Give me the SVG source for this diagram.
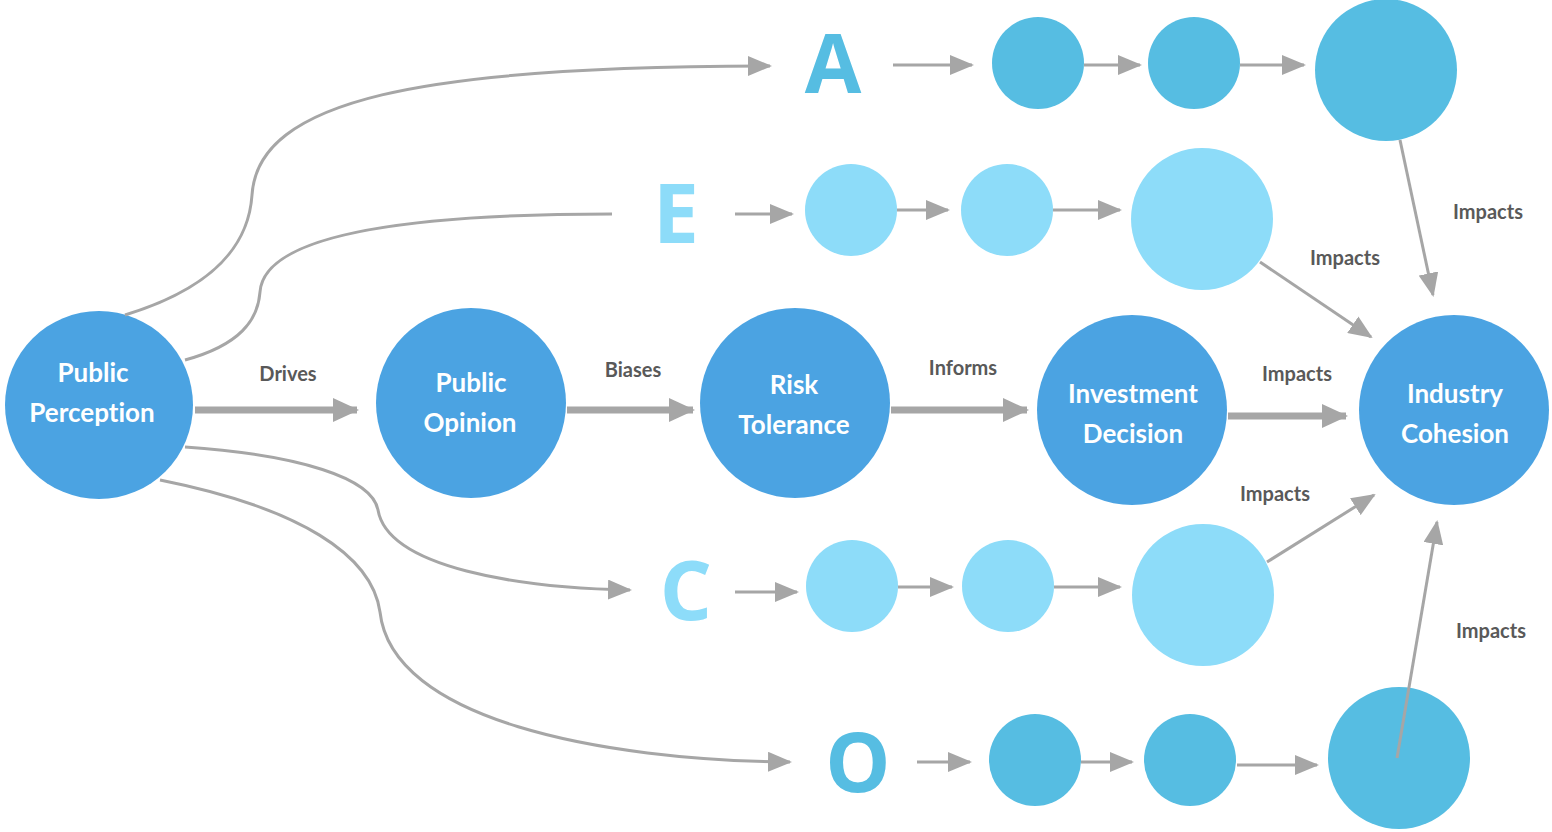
<svg xmlns="http://www.w3.org/2000/svg" width="1552" height="832" viewBox="0 0 1552 832">
<style>
.main{fill:#4ba3e2}
.dk{fill:#56bde2}
.lt{fill:#8ddcf9}
text{font-variant-ligatures:none;font-feature-settings:"liga" 0}
.nt{font-family:Lato,"Open Sans",sans-serif;font-weight:bold;font-size:26px;fill:#ffffff;text-anchor:middle}
.lb{font-family:Lato,"Open Sans",sans-serif;font-weight:bold;font-size:20px;fill:#595959;text-anchor:middle}
.let{font-family:"Open Sans",Lato,sans-serif;font-weight:bold;font-size:82px;text-anchor:middle}
.thin{fill:none;stroke:#a6a6a6;stroke-width:3}
.thick{fill:none;stroke:#a6a6a6;stroke-width:7}
</style>
<defs>
<marker id="ah" markerUnits="userSpaceOnUse" markerWidth="24" markerHeight="20" refX="22" refY="10" orient="auto"><path d="M0,0 L24,10 L0,20 Z" fill="#a6a6a6"/></marker>
<marker id="ahT" markerUnits="userSpaceOnUse" markerWidth="26" markerHeight="24" refX="24" refY="12" orient="auto"><path d="M0,0 L26,12 L0,24 Z" fill="#a6a6a6"/></marker>
</defs>
<rect width="1552" height="832" fill="#ffffff"/>
<g id="n-perception"><circle class="main" cx="99" cy="405" r="94"/><text class="nt" x="93" y="382">Public</text><text class="nt" x="92" y="422">Perception</text></g>
<g id="n-opinion"><circle class="main" cx="471" cy="403" r="95"/><text class="nt" x="471" y="392">Public</text><text class="nt" x="470" y="432">Opinion</text></g>
<g id="n-risk"><circle class="main" cx="795" cy="403" r="95"/><text class="nt" x="794" y="394">Risk</text><text class="nt" x="794" y="434">Tolerance</text></g>
<g id="n-investment"><circle class="main" cx="1132" cy="410" r="95"/><text class="nt" x="1133" y="403">Investment</text><text class="nt" x="1133" y="443">Decision</text></g>
<g id="n-cohesion"><circle class="main" cx="1454" cy="410" r="95"/><text class="nt" x="1455" y="403">Industry</text><text class="nt" x="1455" y="443">Cohesion</text></g>
<g id="row-a">
<text class="let" x="833" y="93" fill="#56bde2">A</text>
<circle class="dk" cx="1038" cy="63" r="46"/>
<circle class="dk" cx="1194" cy="63" r="46"/>
<circle class="dk" cx="1386" cy="70" r="71"/>
</g>
<g id="row-e">
<text class="let" x="676" y="243" fill="#8ddcf9">E</text>
<circle class="lt" cx="851" cy="210" r="46"/>
<circle class="lt" cx="1007" cy="210" r="46"/>
<circle class="lt" cx="1202" cy="219" r="71"/>
</g>
<g id="row-c">
<text class="let" x="686" y="620" fill="#8ddcf9">C</text>
<circle class="lt" cx="852" cy="586" r="46"/>
<circle class="lt" cx="1008" cy="586" r="46"/>
<circle class="lt" cx="1203" cy="595" r="71"/>
</g>
<g id="row-o">
<text class="let" x="858" y="792" fill="#56bde2">O</text>
<circle class="dk" cx="1035" cy="760" r="46"/>
<circle class="dk" cx="1190" cy="760" r="46"/>
<circle class="dk" cx="1399" cy="758" r="71"/>
</g>
<g id="connectors">
<path class="thin" d="M125,315 C200,292 248,255 252,195 C258,100 420,66 770,66" marker-end="url(#ah)"/>
<path class="thin" d="M185,360 C240,345 258,320 260,292 C264,232 420,214 612,214"/>
<path class="thin" d="M185,447 C300,455 372,478 378,510 C388,568 520,588 630,590" marker-end="url(#ah)"/>
<path class="thin" d="M160,480 C300,508 372,555 380,612 C392,720 600,760 790,762" marker-end="url(#ah)"/>
<path class="thick" d="M195,410 L357,410" marker-end="url(#ahT)"/>
<path class="thick" d="M567,410 L693,410" marker-end="url(#ahT)"/>
<path class="thick" d="M891,410 L1027,410" marker-end="url(#ahT)"/>
<path class="thick" d="M1228,416 L1346,416" marker-end="url(#ahT)"/>
<path class="thin" d="M893,65 L972,65" marker-end="url(#ah)"/>
<path class="thin" d="M1084,65 L1140,65" marker-end="url(#ah)"/>
<path class="thin" d="M1240,65 L1304,65" marker-end="url(#ah)"/>
<path class="thin" d="M735,214 L792,214" marker-end="url(#ah)"/>
<path class="thin" d="M897,210 L948,210" marker-end="url(#ah)"/>
<path class="thin" d="M1053,210 L1120,210" marker-end="url(#ah)"/>
<path class="thin" d="M735,592 L797,592" marker-end="url(#ah)"/>
<path class="thin" d="M898,587 L952,587" marker-end="url(#ah)"/>
<path class="thin" d="M1054,587 L1120,587" marker-end="url(#ah)"/>
<path class="thin" d="M917,762 L970,762" marker-end="url(#ah)"/>
<path class="thin" d="M1081,762 L1132,762" marker-end="url(#ah)"/>
<path class="thin" d="M1237,765 L1317,765" marker-end="url(#ah)"/>
<path class="thin" d="M1400,140 L1433,295" marker-end="url(#ah)"/>
<path class="thin" d="M1260,262 L1371,337" marker-end="url(#ah)"/>
<path class="thin" d="M1267,562 L1374,495" marker-end="url(#ah)"/>
<path class="thin" d="M1397,758 L1437,522" marker-end="url(#ah)"/>
<text class="lb" x="288" y="381">Drives</text>
<text class="lb" x="633" y="377">Biases</text>
<text class="lb" x="963" y="375">Informs</text>
<text class="lb" x="1297" y="381">Impacts</text>
<text class="lb" x="1488" y="219">Impacts</text>
<text class="lb" x="1345" y="265">Impacts</text>
<text class="lb" x="1275" y="501">Impacts</text>
<text class="lb" x="1491" y="638">Impacts</text>
</g>
</svg>
